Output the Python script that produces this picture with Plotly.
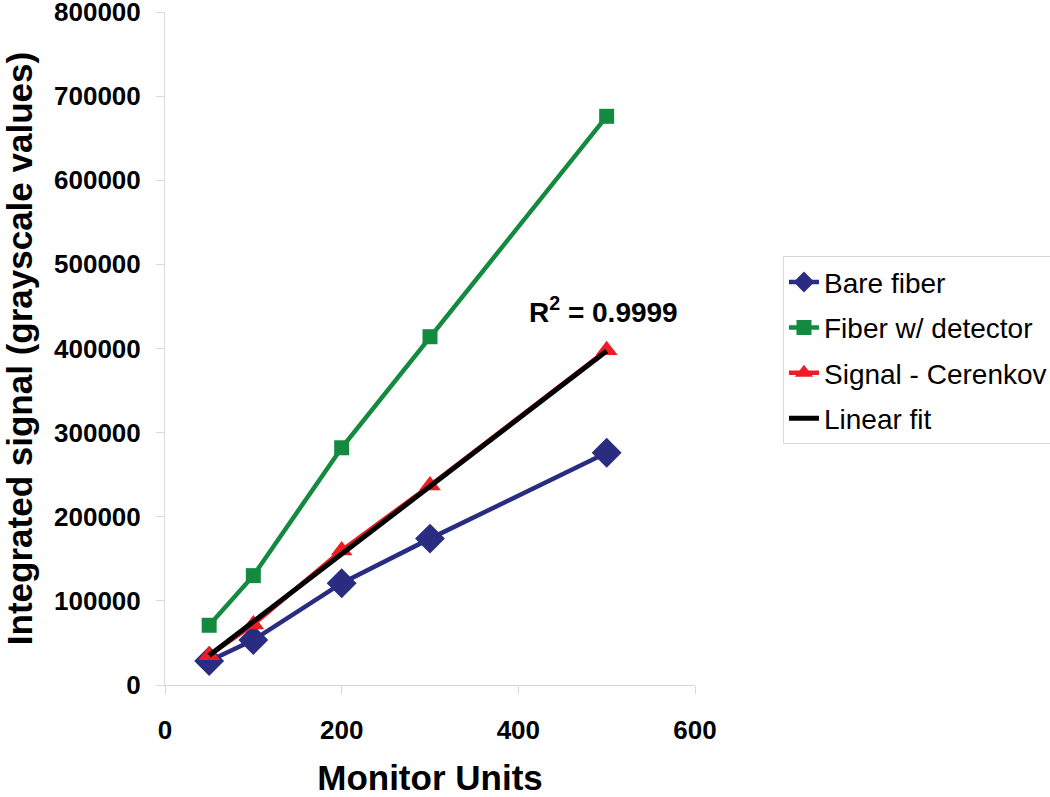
import plotly.graph_objects as go

# Monitor units delivered
monitor_units = [50, 100, 200, 300, 500]

# Integrated signal (grayscale values)
bare_fiber = [28500, 53500, 121000, 174000, 276000]
fiber_detector = [71000, 130000, 282000, 414000, 676000]
signal_cerenkov = [35500, 72000, 160000, 237000, 398000]

# Linear fit end points
fit_x = [50, 500]
fit_y = [35000, 397000]

FONT = "Liberation Sans, Arial, sans-serif"
AXIS_GRAY = "#d9d9d9"

fig = go.Figure()

fig.add_trace(
    go.Scatter(
        x=monitor_units,
        y=bare_fiber,
        name="Bare fiber",
        mode="lines+markers",
        line={"color": "#2a2c82", "width": 4.5},
        marker={"symbol": "diamond", "size": 23, "color": "#2a2c82"},
        legendgroup="a",
    )
)
fig.add_trace(
    go.Scatter(
        x=monitor_units,
        y=fiber_detector,
        name="Fiber w/ detector",
        mode="lines+markers",
        line={"color": "#148a40", "width": 4.5},
        marker={"symbol": "square", "size": 15, "color": "#148a40"},
        legendgroup="b",
    )
)
fig.add_trace(
    go.Scatter(
        x=monitor_units,
        y=signal_cerenkov,
        name="Signal - Cerenkov",
        mode="lines+markers",
        line={"color": "#ee1c25", "width": 4.5},
        marker={"symbol": "triangle-up", "size": 19, "color": "#ee1c25"},
        legendgroup="c",
    )
)
fig.add_trace(
    go.Scatter(
        x=fit_x,
        y=fit_y,
        name="Linear fit",
        mode="lines",
        line={"color": "black", "width": 5},
        legendgroup="d",
    )
)

fig.add_annotation(
    x=496,
    y=446000,
    text="<b>R<sup>2</sup> = 0.9999</b>",
    showarrow=False,
    font={"size": 28, "color": "black", "family": FONT},
)

axis_common = {
    "showgrid": False,
    "zeroline": False,
    "showline": True,
    "linecolor": AXIS_GRAY,
    "linewidth": 1,
    "ticks": "outside",
    "tickcolor": AXIS_GRAY,
    "ticklen": 8,
    "automargin": False,
    "ticklabeloverflow": "allow",
    "tickfont": {"size": 26, "color": "black", "family": FONT, "weight": "bold"},
}

fig.update_layout(
    width=1050,
    height=797,
    plot_bgcolor="white",
    paper_bgcolor="white",
    margin={"l": 165, "r": 355, "t": 12, "b": 112, "autoexpand": False},
    xaxis={
        **axis_common,
        "range": [0, 600],
        "tickvals": [0, 200, 400, 600],
        "ticklabelstandoff": 14,
        "title": {
            "text": "<b>Monitor Units</b>",
            "font": {"size": 35, "color": "black", "family": FONT},
            "standoff": 22,
        },
    },
    yaxis={
        **axis_common,
        "range": [0, 800000],
        "tickvals": list(range(0, 800001, 100000)),
        "tickformat": "d",
        "ticklabelstandoff": 10,
        "title": {
            "text": "<b>Integrated signal (grayscale values)</b>",
            "font": {"size": 35, "color": "black", "family": FONT},
            "standoff": 14,
        },
    },
    legend={
        "x": 1.166,
        "y": 0.637,
        "xanchor": "left",
        "yanchor": "top",
        "bordercolor": AXIS_GRAY,
        "borderwidth": 1,
        "font": {"size": 28, "color": "black", "family": FONT},
        "traceorder": "grouped",
        "tracegroupgap": 6,
    },
)

# drop the default page margin so the figure sits at the window's corner
fig.write_html(
    "out.html",
    config={"displayModeBar": False},
    post_script="document.body.style.margin = '0';",
)
